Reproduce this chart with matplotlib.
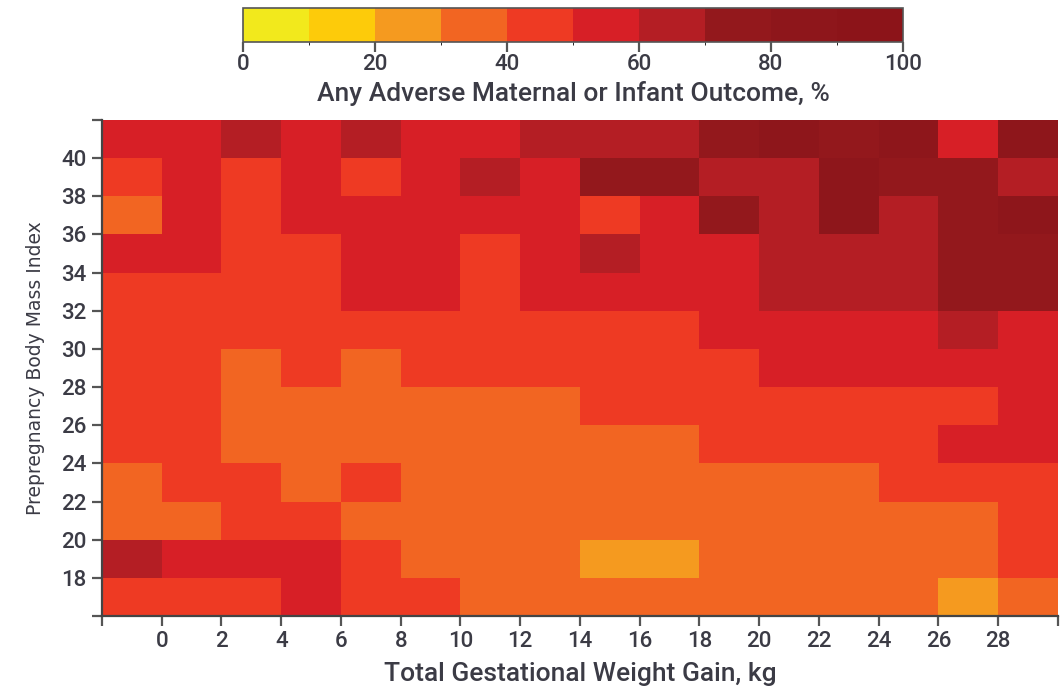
import matplotlib
matplotlib.use("Agg")
import matplotlib.pyplot as plt
import numpy as np
from matplotlib.colors import ListedColormap, BoundaryNorm

# bordas dos intervalos (kg e IMC)
gain_edges = list(range(-2, 31, 2))
bmi_edges = list(range(16, 43, 2))

# % de desfecho adverso, linhas de cima (IMC 40-42) para baixo (IMC 16-18)
outcome_pct = [
    [55, 55, 65, 55, 65, 55, 55, 65, 65, 65, 75, 85, 75, 85, 55, 85],
    [45, 55, 45, 55, 45, 55, 65, 55, 75, 75, 65, 65, 85, 75, 75, 65],
    [35, 55, 45, 55, 55, 55, 55, 55, 45, 55, 75, 65, 85, 65, 75, 85],
    [55, 55, 45, 45, 55, 55, 45, 55, 65, 55, 55, 65, 65, 65, 75, 75],
    [45, 45, 45, 45, 55, 55, 45, 55, 55, 55, 55, 65, 65, 65, 75, 75],
    [45, 45, 45, 45, 45, 45, 45, 45, 45, 45, 55, 55, 55, 55, 65, 55],
    [45, 45, 35, 45, 35, 45, 45, 45, 45, 45, 45, 55, 55, 55, 55, 55],
    [45, 45, 35, 35, 35, 35, 35, 35, 45, 45, 45, 45, 45, 45, 45, 55],
    [45, 45, 35, 35, 35, 35, 35, 35, 35, 35, 45, 45, 45, 45, 55, 55],
    [35, 45, 45, 35, 45, 35, 35, 35, 35, 35, 35, 35, 35, 45, 45, 45],
    [35, 35, 45, 45, 35, 35, 35, 35, 35, 35, 35, 35, 35, 35, 35, 45],
    [65, 55, 55, 55, 45, 35, 35, 35, 25, 25, 35, 35, 35, 35, 35, 45],
    [45, 45, 45, 55, 45, 45, 35, 35, 35, 35, 35, 35, 35, 35, 25, 35],
]

cores = ['#F2E91C', '#FDCB0A', '#F59A1F', '#F26522', '#EE3A23',
         '#D71F26', '#B41E24', '#93181C', '#8E161B', '#8C1419']
niveis = list(range(0, 101, 10))

cmap = ListedColormap(cores)
norm = BoundaryNorm(niveis, cmap.N)

texto = '#3b3b45'
plt.rcParams['font.family'] = ['Roboto', 'DejaVu Sans']

fig = plt.figure(figsize=(10.6, 6.87), dpi=100)
ax = fig.add_axes([0.0962, 0.1033, 0.9018, 0.722])

Z = np.array(outcome_pct)[::-1]
malha = ax.pcolormesh(gain_edges, bmi_edges, Z, cmap=cmap, norm=norm)

ax.set_xlim(-2, 30)
ax.set_ylim(16, 42)
ax.set_xticks(gain_edges)
ax.set_xticklabels(['' if (g < 0 or g > 28) else str(g) for g in gain_edges])
ax.set_yticks(bmi_edges)
ax.set_yticklabels(['' if (b < 18 or b > 40) else str(b) for b in bmi_edges])
ax.tick_params(length=7, width=1.6, color='#555555', labelsize=16,
               labelcolor=texto, pad=4)
for lab in ax.get_xticklabels() + ax.get_yticklabels():
    lab.set_fontweight('medium')
for s in ['top', 'right']:
    ax.spines[s].set_visible(False)
for s in ['left', 'bottom']:
    ax.spines[s].set_color('#444444')
    ax.spines[s].set_linewidth(1.6)

ax.set_xlabel('Total Gestational Weight Gain, kg', fontsize=19, color=texto,
              labelpad=7, fontweight='medium')
ax.set_ylabel('Prepregnancy Body Mass Index', fontsize=13.5, color=texto, labelpad=12,
              family=['Liberation Sans Narrow', 'DejaVu Sans'])

cax = fig.add_axes([0.2292, 0.9389, 0.6226, 0.0495])
cb = fig.colorbar(malha, cax=cax, orientation='horizontal', ticks=list(range(0, 101, 20)))
cb.outline.set_edgecolor('#555555')
cb.outline.set_linewidth(1.2)
cax.tick_params(length=7, width=1.6, color='#555555', labelsize=16,
                labelcolor=texto, pad=2)
for lab in cax.get_xticklabels():
    lab.set_fontweight('medium')
cb.set_label('Any Adverse Maternal or Infant Outcome, %', fontsize=19, color=texto,
             labelpad=4, fontweight='medium')

fig.savefig('out.png', dpi=100)
